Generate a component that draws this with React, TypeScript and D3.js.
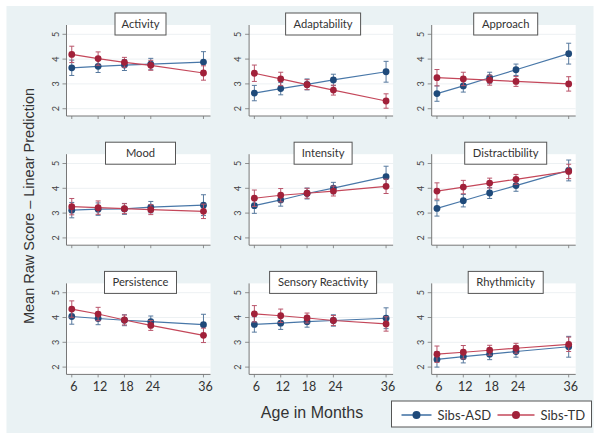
import React from "react";
import * as d3 from "d3";

const WIDTH = 602;
const HEIGHT = 439;

// chart values
const AGES = [6, 12, 18, 24, 36];
const Y_TICKS = [2, 3, 4, 5];
const TRAITS = [
  "Activity", "Adaptability", "Approach",
  "Mood", "Intensity", "Distractibility",
  "Persistence", "Sensory Reactivity", "Rhythmicity"
];
const ASD_MEANS = [
  [3.65, 3.71, 3.76, 3.80, 3.88],
  [2.63, 2.81, 2.98, 3.16, 3.49],
  [2.61, 2.92, 3.25, 3.57, 4.22],
  [3.12, 3.16, 3.17, 3.24, 3.32],
  [3.30, 3.53, 3.79, 4.01, 4.47],
  [3.19, 3.50, 3.81, 4.11, 4.72],
  [4.04, 3.96, 3.89, 3.83, 3.71],
  [3.72, 3.77, 3.83, 3.88, 3.97],
  [2.31, 2.42, 2.52, 2.63, 2.82]
];
const TD_MEANS = [
  [4.19, 4.02, 3.87, 3.75, 3.44],
  [3.43, 3.20, 2.97, 2.75, 2.31],
  [3.25, 3.20, 3.15, 3.10, 3.00],
  [3.26, 3.22, 3.18, 3.14, 3.07],
  [3.60, 3.72, 3.80, 3.89, 4.08],
  [3.89, 4.05, 4.21, 4.36, 4.68],
  [4.34, 4.14, 3.90, 3.68, 3.28],
  [4.15, 4.07, 3.98, 3.88, 3.74],
  [2.52, 2.60, 2.68, 2.76, 2.92]
];
// half widths of the confidence intervals, by age
const ASD_CI = [0.31, 0.25, 0.22, 0.23, 0.42];
const TD_CI = [0.33, 0.27, 0.2, 0.2, 0.29];
const SERIES_NAMES = ["Sibs-ASD", "Sibs-TD"];

// layout
const PW = 144;
const PH = 91;
const LEFT0 = 66.5;
const TOP0 = 25;
const COL_STEP = 182.6;
const ROW_STEP = 129.2;
const BOX_W = [51, 75, 64, 70, 58, 82, 72, 107, 75];

const LINE_COL = ["#4877a8", "#c4475a"];
const MARK_COL = ["#1f4a7a", "#a1213a"];
const CI_COL = ["#57799e", "#b9546a"];
const SANS = "Lato, 'Open Sans', sans-serif";
const ARIAL = "'Liberation Sans', Arial, sans-serif";

const x = d3.scaleLinear().domain([4.8, 37.6]).range([0, PW]);
const y = d3.scaleLinear().domain([1.706, 5.375]).range([PH, 0]);
const line = d3
  .line<number>()
  .x((d, i) => x(AGES[i]))
  .y(d => y(d));

function Panel({ idx }: { idx: number }) {
  const col = idx % 3;
  const row = Math.floor(idx / 3);
  const left = LEFT0 + col * COL_STEP;
  const top = TOP0 + row * ROW_STEP;
  const groups = [
    { means: ASD_MEANS[idx], ci: ASD_CI },
    { means: TD_MEANS[idx], ci: TD_CI }
  ];
  const bw = BOX_W[idx];
  return (
    <g transform={`translate(${left},${top})`}>
      <rect x={0} y={0} width={PW} height={PH} fill="#fff" />
      {Y_TICKS.map(t => (
        <g key={t}>
          <line x1={0} x2={PW} y1={y(t)} y2={y(t)} stroke="#edf1f3" strokeWidth={1} />
          <line x1={-4} x2={0} y1={y(t)} y2={y(t)} stroke="#777" strokeWidth={0.8} />
          <text
            transform={`translate(${-11},${y(t)}) rotate(-90)`}
            textAnchor="middle"
            dy="0.35em"
            fontSize={9}
            fontFamily={SANS}
            fill="#444"
          >
            {t}
          </text>
        </g>
      ))}
      <line x1={0} x2={0} y1={0} y2={PH} stroke="#777" strokeWidth={1} />
      <line x1={0} x2={PW} y1={PH} y2={PH} stroke="#777" strokeWidth={1} />
      {AGES.map(a => (
        <line key={a} x1={x(a)} x2={x(a)} y1={PH} y2={PH + 3} stroke="#777" strokeWidth={0.8} />
      ))}
      {row === 2 &&
        AGES.map(a => (
          <text
            key={a}
            x={x(a) + 2}
            y={PH + 17}
            textAnchor="middle"
            fontSize={12.5}
            fontFamily={SANS}
            fill="#333"
          >
            {a}
          </text>
        ))}
      {groups.map((g, s) => (
        <g key={s}>
          {g.means.map((m, i) => {
            const cx = x(AGES[i]);
            const y1 = y(m + g.ci[i]);
            const y2 = y(m - g.ci[i]);
            return (
              <g key={i} stroke={CI_COL[s]} strokeWidth={1}>
                <line x1={cx} x2={cx} y1={y1} y2={y2} />
                <line x1={cx - 2.5} x2={cx + 2.5} y1={y1} y2={y1} />
                <line x1={cx - 2.5} x2={cx + 2.5} y1={y2} y2={y2} />
              </g>
            );
          })}
          <path d={line(g.means) || ""} fill="none" stroke={LINE_COL[s]} strokeWidth={1.2} />
          {g.means.map((m, i) => (
            <circle key={i} cx={x(AGES[i])} cy={y(m)} r={3.4} fill={MARK_COL[s]} />
          ))}
        </g>
      ))}
      <rect
        x={PW / 2 + 2 - bw / 2}
        y={-12}
        width={bw}
        height={22}
        fill="#fff"
        stroke="#555"
        strokeWidth={1}
      />
      <text
        x={PW / 2 + 2}
        y={-1}
        dy="0.36em"
        textAnchor="middle"
        fontSize={11.2}
        fontFamily={SANS}
        fill="#333"
      >
        {TRAITS[idx]}
      </text>
    </g>
  );
}

export default function App() {
  const lx = 391.5;
  const ly = 401;
  return (
    <svg
      width={WIDTH}
      height={HEIGHT}
      style={{ position: "absolute", left: 0, top: 0, background: "#fff" }}
    >
      <rect x={6.5} y={6} width={587} height={427} fill="#eaf2f4" />
      {TRAITS.map((t, i) => (
        <Panel key={t} idx={i} />
      ))}
      <text
        transform="translate(29,206) rotate(-90)"
        textAnchor="middle"
        dy="0.35em"
        fontSize={14.5}
        fontFamily={ARIAL}
        fill="#333"
      >
        Mean Raw Score – Linear Prediction
      </text>
      <text
        x={312}
        y={412}
        dy="0.35em"
        textAnchor="middle"
        fontSize={16}
        fontFamily={ARIAL}
        fill="#333"
      >
        Age in Months
      </text>
      <g>
        <rect x={lx} y={ly} width={200} height={26} fill="#fff" stroke="#555" strokeWidth={1} />
        {SERIES_NAMES.map((name, s) => {
          const ox = s === 0 ? lx + 10 : lx + 106;
          const len = s === 0 ? 30 : 37;
          return (
            <g key={name}>
              <line x1={ox} x2={ox + len} y1={ly + 14} y2={ly + 14} stroke={LINE_COL[s]} strokeWidth={1.6} />
              <circle cx={ox + len / 2} cy={ly + 14} r={4} fill={MARK_COL[s]} />
              <text
                x={ox + len + 6}
                y={ly + 14}
                dy="0.36em"
                fontSize={13}
                fontFamily={SANS}
                fill="#333"
              >
                {name}
              </text>
            </g>
          );
        })}
      </g>
    </svg>
  );
}
